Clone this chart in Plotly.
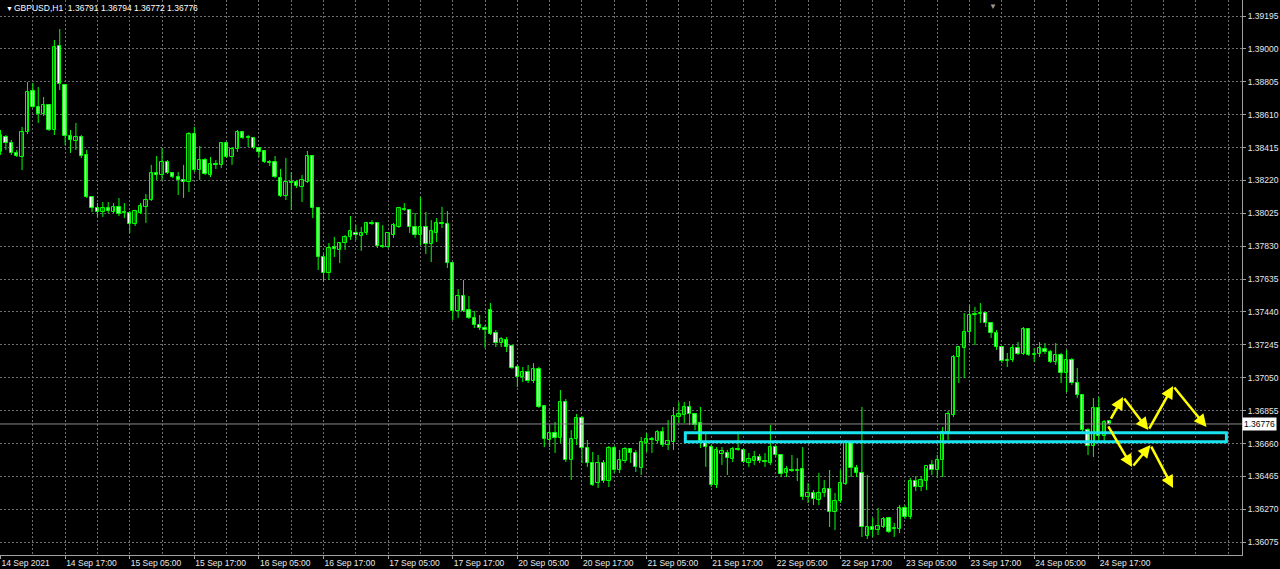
import plotly.graph_objects as go

# ---------------- data (GBPUSD H1, bars from 14 Sep 2021 05:00) ----------------
open_ = [1.38389, 1.38478, 1.38442, 1.38383, 1.38359, 1.38507, 1.38750, 1.38656, 1.38614, 1.38667,
         1.38519, 1.39017, 1.38786, 1.38484, 1.38454, 1.38478, 1.38371, 1.38122, 1.38057, 1.38033,
         1.38057, 1.38033, 1.38063, 1.38033, 1.38027, 1.37962, 1.38027, 1.38063, 1.38104, 1.38264,
         1.38252, 1.38329, 1.38264, 1.38240, 1.38223, 1.38211, 1.38495, 1.38282, 1.38341, 1.38252,
         1.38317, 1.38312, 1.38442, 1.38359, 1.38406, 1.38507, 1.38478, 1.38472, 1.38412, 1.38395,
         1.38329, 1.38329, 1.38234, 1.38128, 1.38211, 1.38211, 1.38181, 1.38211, 1.38365, 1.38057,
         1.37766, 1.37671, 1.37825, 1.37808, 1.37849, 1.37885, 1.37908, 1.37891, 1.37908, 1.37968,
         1.37968, 1.37831, 1.37825, 1.37896, 1.37944, 1.38051, 1.38045, 1.37944, 1.37896, 1.37944,
         1.37843, 1.37908, 1.37968, 1.37962, 1.37730, 1.37446, 1.37535, 1.37452, 1.37404, 1.37363,
         1.37345, 1.37452, 1.37315, 1.37256, 1.37274, 1.37238, 1.37114, 1.37054, 1.37084, 1.37031,
         1.37102, 1.36882, 1.36681, 1.36722, 1.36693, 1.36906, 1.36562, 1.36687, 1.36811, 1.36633,
         1.36544, 1.36426, 1.36544, 1.36438, 1.36633, 1.36503, 1.36556, 1.36627, 1.36604, 1.36515,
         1.36663, 1.36681, 1.36675, 1.36728, 1.36651, 1.36669, 1.36817, 1.36829, 1.36877, 1.36835,
         1.36782, 1.36669, 1.36639, 1.36414, 1.36598, 1.36604, 1.36568, 1.36627, 1.36622, 1.36544,
         1.36556, 1.36580, 1.36556, 1.36544, 1.36639, 1.36592, 1.36485, 1.36503, 1.36497, 1.36509,
         1.36343, 1.36367, 1.36325, 1.36367, 1.36390, 1.36254, 1.36319, 1.36420, 1.36663, 1.36515,
         1.36485, 1.36112, 1.36165, 1.36147, 1.36165, 1.36218, 1.36159, 1.36153, 1.36278, 1.36224,
         1.36438, 1.36402, 1.36438, 1.36533, 1.36503, 1.36562, 1.36728, 1.36829, 1.37173, 1.37226,
         1.37321, 1.37422, 1.37428, 1.37434, 1.37375, 1.37315, 1.37232, 1.37149, 1.37155, 1.37226,
         1.37191, 1.37339, 1.37185, 1.37191, 1.37220, 1.37203, 1.37143, 1.37185, 1.37078, 1.37155,
         1.37019, 1.36948, 1.36740, 1.36645, 1.36871, 1.36705, 1.36791]

high = [1.38519, 1.38489, 1.38460, 1.38401, 1.38537, 1.38804, 1.38798, 1.38774, 1.38715, 1.38673,
        1.39053, 1.39118, 1.38792, 1.38519, 1.38561, 1.38489, 1.38401, 1.38128, 1.38086, 1.38092,
        1.38092, 1.38086, 1.38116, 1.38086, 1.38039, 1.38045, 1.38086, 1.38140, 1.38312, 1.38365,
        1.38412, 1.38341, 1.38270, 1.38270, 1.38312, 1.38507, 1.38537, 1.38424, 1.38353, 1.38359,
        1.38341, 1.38448, 1.38448, 1.38418, 1.38519, 1.38513, 1.38489, 1.38478, 1.38418, 1.38401,
        1.38341, 1.38365, 1.38288, 1.38353, 1.38270, 1.38223, 1.38252, 1.38395, 1.38371, 1.38063,
        1.37784, 1.37849, 1.37885, 1.37855, 1.37896, 1.38009, 1.37956, 1.37944, 1.37974, 1.37985,
        1.37974, 1.37956, 1.37914, 1.37968, 1.38063, 1.38086, 1.38051, 1.38027, 1.38122, 1.38033,
        1.37985, 1.37997, 1.38063, 1.38039, 1.37736, 1.37576, 1.37630, 1.37535, 1.37446, 1.37422,
        1.37363, 1.37493, 1.37333, 1.37292, 1.37292, 1.37244, 1.37126, 1.37114, 1.37126, 1.37137,
        1.37114, 1.36888, 1.36770, 1.36788, 1.36977, 1.36924, 1.36740, 1.36835, 1.36823, 1.36681,
        1.36610, 1.36592, 1.36562, 1.36645, 1.36645, 1.36622, 1.36639, 1.36633, 1.36622, 1.36699,
        1.36722, 1.36699, 1.36740, 1.36758, 1.36799, 1.36877, 1.36906, 1.36906, 1.36912, 1.36841,
        1.36877, 1.36722, 1.36651, 1.36639, 1.36639, 1.36622, 1.36639, 1.36722, 1.36633, 1.36604,
        1.36616, 1.36598, 1.36604, 1.36770, 1.36651, 1.36598, 1.36527, 1.36592, 1.36574, 1.36639,
        1.36426, 1.36384, 1.36485, 1.36444, 1.36503, 1.36367, 1.36503, 1.36681, 1.36669, 1.36533,
        1.36877, 1.36473, 1.36218, 1.36278, 1.36224, 1.36224, 1.36189, 1.36295, 1.36295, 1.36456,
        1.36467, 1.36467, 1.36515, 1.36562, 1.36592, 1.36758, 1.36853, 1.37185, 1.37238, 1.37434,
        1.37481, 1.37470, 1.37493, 1.37440, 1.37381, 1.37333, 1.37238, 1.37197, 1.37244, 1.37262,
        1.37351, 1.37345, 1.37226, 1.37262, 1.37256, 1.37215, 1.37256, 1.37197, 1.37215, 1.37167,
        1.37108, 1.36954, 1.36752, 1.36930, 1.36936, 1.36799, 1.36794]

low = [1.38371, 1.38401, 1.38371, 1.38359, 1.38282, 1.38495, 1.38650, 1.38561, 1.38602, 1.38513,
       1.38489, 1.38756, 1.38430, 1.38383, 1.38401, 1.38353, 1.38116, 1.38033, 1.38003, 1.38003,
       1.38027, 1.38027, 1.38009, 1.37997, 1.37908, 1.37950, 1.38021, 1.37968, 1.38098, 1.38223,
       1.38223, 1.38258, 1.38234, 1.38134, 1.38116, 1.38151, 1.38270, 1.38223, 1.38252, 1.38240,
       1.38288, 1.38294, 1.38353, 1.38312, 1.38389, 1.38466, 1.38418, 1.38406, 1.38359, 1.38323,
       1.38306, 1.38234, 1.38122, 1.38104, 1.38045, 1.38175, 1.38092, 1.38205, 1.37997, 1.37689,
       1.37618, 1.37630, 1.37766, 1.37730, 1.37808, 1.37867, 1.37867, 1.37802, 1.37896, 1.37956,
       1.37819, 1.37819, 1.37819, 1.37879, 1.37938, 1.38039, 1.37908, 1.37879, 1.37837, 1.37784,
       1.37736, 1.37855, 1.37938, 1.37701, 1.37392, 1.37404, 1.37440, 1.37398, 1.37345, 1.37333,
       1.37226, 1.37303, 1.37232, 1.37232, 1.37203, 1.37102, 1.36995, 1.37025, 1.37019, 1.37019,
       1.36871, 1.36639, 1.36639, 1.36604, 1.36663, 1.36550, 1.36444, 1.36651, 1.36544, 1.36521,
       1.36408, 1.36396, 1.36426, 1.36402, 1.36485, 1.36485, 1.36544, 1.36544, 1.36491, 1.36473,
       1.36610, 1.36604, 1.36663, 1.36639, 1.36622, 1.36622, 1.36782, 1.36782, 1.36770, 1.36740,
       1.36633, 1.36521, 1.36402, 1.36396, 1.36533, 1.36473, 1.36550, 1.36616, 1.36544, 1.36521,
       1.36533, 1.36544, 1.36521, 1.36533, 1.36580, 1.36461, 1.36461, 1.36491, 1.36438, 1.36325,
       1.36307, 1.36295, 1.36295, 1.36343, 1.36165, 1.36147, 1.36307, 1.36414, 1.36461, 1.36461,
       1.36106, 1.36094, 1.36106, 1.36117, 1.36159, 1.36129, 1.36106, 1.36129, 1.36212, 1.36212,
       1.36378, 1.36378, 1.36384, 1.36473, 1.36456, 1.36461, 1.36681, 1.36817, 1.37019, 1.37048,
       1.37256, 1.37244, 1.37375, 1.37351, 1.37286, 1.37215, 1.37137, 1.37114, 1.37143, 1.37185,
       1.37185, 1.37179, 1.37143, 1.37173, 1.37191, 1.37137, 1.37126, 1.37019, 1.36965, 1.37007,
       1.36930, 1.36728, 1.36592, 1.36580, 1.36663, 1.36663, 1.36772]

close = [1.38489, 1.38442, 1.38383, 1.38365, 1.38507, 1.38744, 1.38656, 1.38614, 1.38667, 1.38519,
         1.39011, 1.38792, 1.38484, 1.38460, 1.38478, 1.38365, 1.38122, 1.38057, 1.38033, 1.38057,
         1.38039, 1.38063, 1.38021, 1.38027, 1.37962, 1.38039, 1.38068, 1.38104, 1.38264, 1.38252,
         1.38329, 1.38264, 1.38240, 1.38223, 1.38211, 1.38495, 1.38282, 1.38341, 1.38258, 1.38317,
         1.38312, 1.38442, 1.38359, 1.38406, 1.38507, 1.38472, 1.38472, 1.38412, 1.38389, 1.38329,
         1.38323, 1.38240, 1.38128, 1.38211, 1.38205, 1.38187, 1.38223, 1.38365, 1.38057, 1.37766,
         1.37671, 1.37819, 1.37813, 1.37849, 1.37885, 1.37920, 1.37896, 1.37908, 1.37968, 1.37962,
         1.37831, 1.37825, 1.37908, 1.37956, 1.38057, 1.38045, 1.37944, 1.37896, 1.37944, 1.37843,
         1.37920, 1.37968, 1.37962, 1.37730, 1.37446, 1.37535, 1.37446, 1.37404, 1.37363, 1.37345,
         1.37333, 1.37309, 1.37256, 1.37280, 1.37232, 1.37108, 1.37054, 1.37084, 1.37031, 1.37102,
         1.36877, 1.36687, 1.36722, 1.36693, 1.36906, 1.36562, 1.36687, 1.36811, 1.36633, 1.36544,
         1.36414, 1.36544, 1.36438, 1.36633, 1.36503, 1.36562, 1.36627, 1.36604, 1.36521, 1.36669,
         1.36687, 1.36687, 1.36728, 1.36651, 1.36675, 1.36823, 1.36835, 1.36877, 1.36835, 1.36770,
         1.36675, 1.36639, 1.36414, 1.36622, 1.36616, 1.36574, 1.36627, 1.36622, 1.36550, 1.36568,
         1.36580, 1.36556, 1.36550, 1.36639, 1.36592, 1.36479, 1.36509, 1.36497, 1.36503, 1.36343,
         1.36367, 1.36331, 1.36367, 1.36390, 1.36254, 1.36319, 1.36426, 1.36663, 1.36515, 1.36485,
         1.36165, 1.36165, 1.36147, 1.36171, 1.36212, 1.36135, 1.36153, 1.36278, 1.36224, 1.36438,
         1.36402, 1.36444, 1.36527, 1.36503, 1.36562, 1.36728, 1.36835, 1.37173, 1.37232, 1.37321,
         1.37422, 1.37428, 1.37434, 1.37375, 1.37315, 1.37232, 1.37149, 1.37155, 1.37226, 1.37191,
         1.37339, 1.37185, 1.37191, 1.37226, 1.37203, 1.37143, 1.37185, 1.37078, 1.37155, 1.37019,
         1.36948, 1.36740, 1.36645, 1.36871, 1.36705, 1.36788, 1.36776]

# time axis labels (bar index -> label), every 12 bars
time_tick_bars = [0, 12, 24, 36, 48, 60, 72, 84, 96, 108, 120, 132, 144, 156, 168, 180, 192, 204]
time_tick_labels = ["14 Sep 2021", "14 Sep 17:00", "15 Sep 05:00", "15 Sep 17:00", "16 Sep 05:00",
                    "16 Sep 17:00", "17 Sep 05:00", "17 Sep 17:00", "20 Sep 05:00", "20 Sep 17:00",
                    "21 Sep 05:00", "21 Sep 17:00", "22 Sep 05:00", "22 Sep 17:00", "23 Sep 05:00",
                    "23 Sep 17:00", "24 Sep 05:00", "24 Sep 17:00"]

# price scale labels
price_ticks = [1.36075, 1.36270, 1.36465, 1.36660, 1.36855, 1.37050, 1.37245, 1.37440, 1.37635,
               1.37830, 1.38025, 1.38220, 1.38415, 1.38610, 1.38805, 1.39000, 1.39195]

symbol_title = "GBPUSD,H1"
last_ohlc = [1.36791, 1.36794, 1.36772, 1.36776]
bid_price = 1.36776

# support zone (cyan rectangle) in bar index / price
zone_bars = [127.2, 227.7]
zone_prices = [1.36671, 1.36724]

# projected paths (yellow arrows): bar index / price
path_up_bars = [206.1, 208.5, 213.2, 217.8, 224.0]
path_up_prices = [1.36799, 1.36936, 1.36740, 1.37001, 1.36758]
path_dn_bars = [205.6, 210.2, 213.6, 217.8]
path_dn_prices = [1.36770, 1.36521, 1.36651, 1.36396]

# ---------------- figure ----------------
LIME = "#00ff00"
GRID = "#6e6e6e"
FONT = "Liberation Sans"

n = len(open_)
idx = list(range(n))
min_h = 0.000025

bull_x, bull_b, bull_h = [], [], []
bear_x, bear_b, bear_h = [], [], []
for i in idx:
    o, c = open_[i], close[i]
    lo = min(o, c)
    d = abs(c - o)
    if d < min_h:
        lo -= (min_h - d) / 2
        d = min_h
    if c >= o:
        bull_x.append(i); bull_b.append(lo); bull_h.append(d)
    else:
        bear_x.append(i); bear_b.append(lo); bear_h.append(d)

wick_x, wick_y = [], []
for i in idx:
    wick_x += [i, i, None]
    wick_y += [low[i], high[i], None]

fig = go.Figure()
fig.add_trace(go.Scatter(x=wick_x, y=wick_y, mode="lines",
                         line=dict(color=LIME, width=1), hoverinfo="skip"))
fig.add_trace(go.Bar(x=bull_x, y=bull_h, base=bull_b, width=0.62,
                     marker=dict(color="black", line=dict(color=LIME, width=1))))
fig.add_trace(go.Bar(x=bear_x, y=bear_h, base=bear_b, width=0.62,
                     marker=dict(color="white", line=dict(color=LIME, width=1))))

# bid line
fig.add_shape(type="line", xref="paper", x0=0, x1=1, yref="y", y0=bid_price, y1=bid_price,
              line=dict(color="#8a8a8a", width=1))
# cyan zone
fig.add_shape(type="rect", xref="x", yref="y", x0=zone_bars[0], x1=zone_bars[1],
              y0=zone_prices[0], y1=zone_prices[1], line=dict(color="#19e3ef", width=3))

# arrows
for bx, py in ((path_up_bars, path_up_prices), (path_dn_bars, path_dn_prices)):
    for k in range(len(bx) - 1):
        fig.add_annotation(x=bx[k + 1], y=py[k + 1], ax=bx[k], ay=py[k], xref="x", yref="y",
                           axref="x", ayref="y", text="", showarrow=True, arrowhead=2,
                           arrowsize=1, arrowwidth=2.5, arrowcolor="#ffff00")

# header
fig.add_annotation(xref="paper", yref="paper", x=0.003, y=0.9855, xanchor="left", yanchor="middle",
                   text="▼", showarrow=False, font=dict(family=FONT, size=7, color="white"))
fig.add_annotation(xref="paper", yref="paper", x=0.0097, y=0.9855, xanchor="left", yanchor="middle",
                   text=symbol_title + "  " + " ".join(f"{v:.5f}" for v in last_ohlc),
                   showarrow=False, font=dict(family=FONT, size=8.5, color="white"))
# chart shift marker
fig.add_annotation(xref="x", yref="paper", x=184.4, y=1.0, yanchor="top", text="▼",
                   showarrow=False, font=dict(family=FONT, size=8, color="#9a9a9a"))
# bid price label
fig.add_annotation(xref="paper", yref="y", x=1.0, y=bid_price, xanchor="left", yanchor="middle",
                   text=f"{bid_price:.5f}", showarrow=False, bgcolor="white", borderpad=1,
                   font=dict(family=FONT, size=8.5, color="black"))

fig.update_layout(
    width=1280, height=569,
    margin=dict(l=0, r=38, t=0, b=14),
    paper_bgcolor="black", plot_bgcolor="black",
    showlegend=False, barmode="overlay", bargap=0,
    xaxis=dict(range=[-0.1, 230.6], tickmode="array", tickvals=time_tick_bars,
               ticktext=time_tick_labels, ticklabelposition="outside right",
               ticks="outside", ticklen=3, tickcolor="#a0a0a0",
               tickfont=dict(family=FONT, size=8.5, color="#e8e8e8"),
               showgrid=True, gridcolor=GRID, griddash="2px,2px", gridwidth=1,
               minor=dict(dtick=6, tick0=0, showgrid=True, gridcolor=GRID,
                          griddash="2px,2px", gridwidth=1),
               showline=True, linecolor="#a0a0a0", linewidth=1, zeroline=False, fixedrange=True),
    yaxis=dict(side="right", range=[1.35999, 1.39290], tickmode="array", tickvals=price_ticks,
               ticktext=[f"{v:.5f}" for v in price_ticks], ticks="outside", ticklen=3,
               tickcolor="#a0a0a0", tickfont=dict(family=FONT, size=8.5, color="#e8e8e8"),
               showgrid=True, gridcolor=GRID, griddash="2px,2px", gridwidth=1,
               showline=True, linecolor="#a0a0a0", linewidth=1, zeroline=False, fixedrange=True),
)

fig.write_html("out.html", config={"displayModeBar": False},
               post_script="document.body.style.margin='0';document.body.style.overflow='hidden';")
